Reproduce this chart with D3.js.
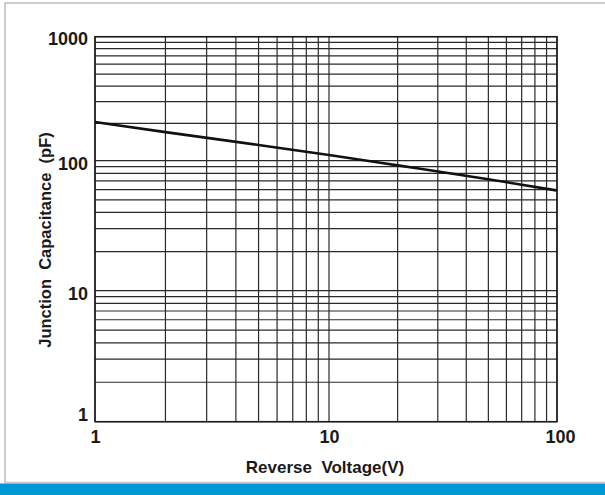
<!DOCTYPE html>
<html>
<head>
<meta charset="utf-8">
<script src="https://cdn.jsdelivr.net/npm/d3@7"></script>
<style>
  html, body { margin: 0; padding: 0; background: #fff; }
  svg { display: block; }
  text { font-family: "Liberation Sans", Arial, sans-serif; font-weight: bold; fill: #1a1a1a; }
</style>
</head>
<body>
<svg id="chart" width="605" height="495"></svg>
<script>
// Junction capacitance vs. reverse voltage (log-log)
const voltage = [1, 2, 5, 10, 20, 50, 100];
const capacitance = [205, 170, 134, 111, 92, 72, 59];

const xTicks = [1, 10, 100];
const yTicks = [1, 10, 100, 1000];
const xTitle = "Reverse\u00a0 Voltage(V)";
const yTitle = "Junction\u00a0 Capacitance\u00a0 (pF)";

const svg = d3.select("#chart");
const W = 605, H = 495;

// Outer frame and bottom band
svg.append("rect").attr("x", 0).attr("y", 0).attr("width", W).attr("height", H).attr("fill", "#fff");
svg.append("path")
  .attr("d", `M5,483 V3 H${W}`)
  .attr("fill", "none").attr("stroke", "#bdbdbd").attr("stroke-width", 1.5);
svg.append("line").attr("x1", 5).attr("x2", W).attr("y1", 482.5).attr("y2", 482.5)
  .attr("stroke", "#c8c8c8").attr("stroke-width", 1.5);
svg.append("rect").attr("x", 0).attr("y", 483.5).attr("width", W).attr("height", H - 483.5)
  .attr("fill", "#0096d8");

// Scales (piecewise per decade)
const x = d3.scaleLog().domain([1, 10, 100]).range([95, 329, 557]);
const y = d3.scaleLog().domain([1, 10, 100, 1000]).range([421.7, 290.7, 160.7, 36.7]);

// Grid values: 1..9 per decade
function decadeValues(lo, hi) {
  const out = [];
  for (let p = lo; p < hi; p *= 10) for (let m = 1; m <= 9; m++) out.push(m * p);
  out.push(hi);
  return out;
}
const xGrid = decadeValues(1, 100);
const yGrid = decadeValues(1, 1000);

const grid = svg.append("g").attr("stroke", "#2a2a2a").attr("stroke-width", 1.2);
grid.selectAll("line.v").data(xGrid).join("line").attr("class", "v")
  .attr("x1", d => x(d)).attr("x2", d => x(d))
  .attr("y1", y(1000)).attr("y2", y(1));
grid.selectAll("line.h").data(yGrid).join("line").attr("class", "h")
  .attr("y1", d => y(d)).attr("y2", d => y(d))
  .attr("x1", x(1)).attr("x2", x(100));

// Plot frame
svg.append("rect")
  .attr("x", x(1)).attr("y", y(1000))
  .attr("width", x(100) - x(1)).attr("height", y(1) - y(1000))
  .attr("fill", "none").attr("stroke", "#1a1a1a").attr("stroke-width", 1.5);

// Tick labels
const xAxis = d3.axisBottom(x).tickValues(xTicks).tickSize(0).tickPadding(9)
  .tickFormat(d3.format("d"));
const gx = svg.append("g").attr("transform", `translate(0,${y(1)})`).call(xAxis);
gx.select(".domain").remove();
gx.selectAll("text").attr("font-size", 18).attr("fill", "#1a1a1a")
  .attr("dx", d => d === 100 ? 3 : 0);

const yAxis = d3.axisLeft(y).tickValues(yTicks).tickSize(0).tickPadding(7)
  .tickFormat(d3.format("d"));
const gy = svg.append("g").attr("transform", `translate(${x(1)},0)`).call(yAxis);
gy.select(".domain").remove();
gy.selectAll("text").attr("font-size", 18).attr("fill", "#1a1a1a")
  .attr("dy", d => d === 1 ? "-0.05em" : (d === 1000 ? "0.42em" : "0.5em"));

// Capacitance curve
const line = d3.line().x((d, i) => x(voltage[i])).y(d => y(d)).curve(d3.curveMonotoneX);
svg.append("path").datum(capacitance)
  .attr("d", line)
  .attr("fill", "none").attr("stroke", "#111").attr("stroke-width", 2.6);

// Axis titles
svg.append("text").attr("x", 325).attr("y", 473).attr("text-anchor", "middle")
  .attr("font-size", 17).text(xTitle);
svg.append("text").attr("transform", "translate(51,240) rotate(-90)")
  .attr("text-anchor", "middle").attr("font-size", 16.5).text(yTitle);
</script>
</body>
</html>
